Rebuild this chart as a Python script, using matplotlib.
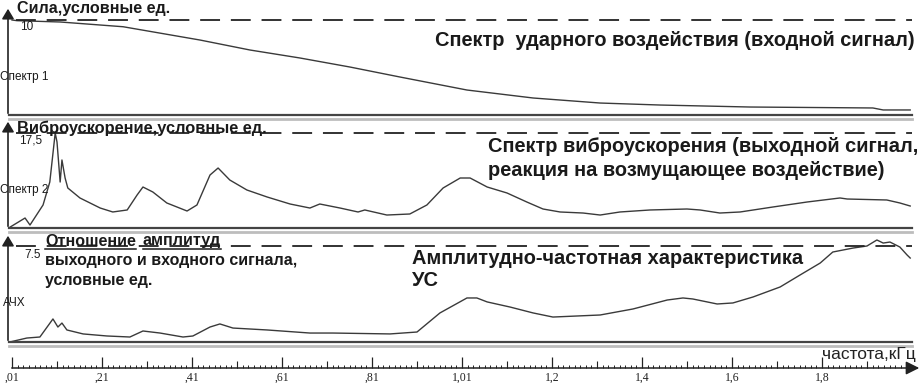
import matplotlib
matplotlib.use("Agg")
import matplotlib.pyplot as plt
from matplotlib.ticker import FixedLocator, NullFormatter

plt.rcParams['font.family'] = ['Liberation Sans', 'DejaVu Sans']

W, H = 924, 383

# ---------------- data (frequency in kHz) ----------------
f1 = [0.01, 0.021, 0.117, 0.257, 0.428, 0.539, 0.65, 0.761, 0.872, 1.021, 1.168,
      1.317, 1.45, 1.65, 1.923, 1.946, 2.006]
force = [10.0, 9.93, 9.79, 9.29, 7.89, 6.84, 6.0, 5.05, 4.0, 2.63, 1.79,
         1.26, 1.05, 0.84, 0.74, 0.53, 0.53]

f2 = [0.006, 0.039, 0.05, 0.079, 0.094, 0.106, 0.11, 0.117, 0.121, 0.128, 0.134,
      0.161, 0.206, 0.234, 0.266, 0.288, 0.301, 0.323, 0.354, 0.399, 0.421, 0.45,
      0.468, 0.494, 0.532, 0.577, 0.628, 0.672, 0.694, 0.739, 0.779, 0.794, 0.843,
      0.894, 0.932, 0.968, 1.006, 1.028, 1.066, 1.11, 1.154, 1.19, 1.228, 1.279,
      1.317, 1.361, 1.428, 1.51, 1.539, 1.583, 1.628, 1.701, 1.777, 1.85, 1.866,
      1.954, 1.983, 2.006]
accel = [0.18, 1.84, 0.55, 4.24, 8.47, 17.5, 15.84, 8.47, 12.53, 9.21, 7.37,
         5.53, 3.68, 2.95, 3.32, 6.08, 7.55, 6.63, 4.61, 3.13, 4.24, 9.76,
         11.05, 8.84, 7.0, 5.71, 4.42, 3.68, 4.42, 3.68, 2.95, 3.32, 2.39,
         2.58, 4.24, 7.37, 9.21, 9.21, 7.55, 6.45, 4.79, 3.5, 2.95, 2.76,
         2.39, 2.95, 3.32, 3.5, 3.32, 2.76, 2.95, 3.87, 4.79, 5.53, 5.34,
         5.16, 4.61, 4.05]

f3 = [0.005, 0.043, 0.072, 0.101, 0.112, 0.121, 0.132, 0.168, 0.221, 0.272, 0.301,
      0.339, 0.39, 0.412, 0.45, 0.472, 0.501, 0.577, 0.672, 0.723, 0.85, 0.91,
      0.961, 1.021, 1.043, 1.066, 1.117, 1.168, 1.212, 1.317, 1.39, 1.466, 1.501,
      1.523, 1.577, 1.612, 1.657, 1.717, 1.761, 1.806, 1.834, 1.879, 1.91, 1.932,
      1.946, 1.961, 1.983, 1.999, 2.006]
ratio = [0.0, 0.31, 0.39, 1.80, 1.17, 1.48, 0.94, 0.63, 0.47, 0.39, 0.86,
         0.70, 0.39, 0.47, 1.17, 1.41, 1.09, 0.94, 0.70, 0.70, 0.63, 0.78,
         2.27, 3.44, 3.44, 3.13, 2.73, 2.27, 1.95, 2.11, 2.58, 3.28, 3.44,
         3.36, 2.97, 3.05, 3.52, 4.30, 5.23, 6.17, 7.03, 7.34, 7.5, 7.97,
         7.73, 7.81, 7.42, 6.80, 6.56]

tick_pos = [0.01, 0.21, 0.41, 0.61, 0.81, 1.01, 1.21, 1.41, 1.61, 1.81]
tick_lab = [",01", ",21", ",41", ",61", ",81", "1,01", "1,2", "1,4", "1,6", "1,8"]

ref_levels = [10, 17.5, 7.5]
ref_labels = ["10", "17,5", "7.5"]

# ---------------- layout helpers ----------------
def fx(x):
    return x / W

def fy(y):
    return 1 - y / H

fig = plt.figure(figsize=(W / 100, H / 100), dpi=100)
fig.patch.set_facecolor("white")

X0, X1 = 9, 912
xmin = 0.01 + (X0 - 12) / 450
xmax = 0.01 + (X1 - 12) / 450

panels = [
    # top_px, dashed_px, base_px
    (10, 20, 115),
    (123, 133, 228),
    (237, 246, 342),
]
series = [(f1, force), (f2, accel), (f3, ratio)]
curve_col = "#3a3a3a"

for (top, dash, base), (sx, sy), lev in zip(panels, series, ref_levels):
    ax = fig.add_axes([fx(X0), fy(base), fx(X1) - fx(X0), (base - top) / H])
    ax.set_xlim(xmin, xmax)
    ymax = lev * (base - top) / (base - dash)
    ax.set_ylim(0, ymax)
    ax.plot(sx, sy, color=curve_col, lw=1.0)
    x_dash0 = 0.01 + (16 - 12) / 450
    ax.plot([x_dash0, xmax], [lev, lev], color="#222222", lw=1.3,
            dashes=(11, 6))
    for s in ["top", "right", "left"]:
        ax.spines[s].set_visible(False)
    ax.spines["bottom"].set_color("#444444")
    ax.spines["bottom"].set_linewidth(1.6)
    ax.set_xticks([])
    ax.set_yticks([])
    ax.patch.set_alpha(0)
    # y axis with arrow
    fig.add_artist(matplotlib.patches.FancyArrowPatch(
        (fx(8), fy(base + 1)), (fx(8), fy(top - 4)),
        transform=fig.transFigure, arrowstyle="-|>,head_length=3,head_width=1.8",
        color="#222222", lw=1.2, mutation_scale=2))
    # gray band under the panel
    fig.add_artist(matplotlib.lines.Line2D([fx(X0), fx(X1)], [fy(base + 3.5), fy(base + 3.5)],
                                           color="#bdbdbd", lw=2.0))

# ---------------- x axis ----------------
AXY = 368
axx = fig.add_axes([fx(X0), fy(AXY), fx(X1) - fx(X0), 0.0001])
axx.set_xlim(xmin, xmax)
axx.set_ylim(0, 1)
for s in ["top", "right", "left", "bottom"]:
    axx.spines[s].set_visible(False)
axx.set_yticks([])
axx.xaxis.set_major_locator(FixedLocator(tick_pos))
axx.xaxis.set_minor_locator(FixedLocator([0.01 + 0.0125 * i for i in range(161)]))
axx.set_xticklabels(tick_lab, family=["Liberation Serif"], fontsize=8.5)
axx.tick_params(axis="x", which="major", direction="in", length=8, width=0.9,
                pad=3, colors="#222222")
axx.tick_params(axis="x", which="minor", direction="in", length=2.5, width=0.7,
                colors="#222222")
axm = fig.add_axes([fx(X0), fy(AXY), fx(X1) - fx(X0), 0.0001])
axm.set_xlim(xmin, xmax)
for s in ["top", "right", "left", "bottom"]:
    axm.spines[s].set_visible(False)
axm.set_yticks([])
axm.xaxis.set_major_locator(FixedLocator([p + 0.1 for p in tick_pos]))
axm.xaxis.set_major_formatter(NullFormatter())
axm.tick_params(axis="x", which="major", direction="in", length=5, width=0.8,
                colors="#222222")
axm.patch.set_alpha(0)
fig.add_artist(matplotlib.patches.FancyArrowPatch(
    (fx(X0), fy(AXY)), (fx(922), fy(AXY)),
    transform=fig.transFigure, arrowstyle="-|>,head_length=4,head_width=2",
    color="#222222", lw=1.1, mutation_scale=2))
fig.text(fx(916), fy(354), "частота,кГц", ha="right", va="center", fontsize=12.5,
         color="#222222")

# ---------------- texts ----------------
def T(x, y, s, size, bold=False, ha="left"):
    return fig.text(fx(x), fy(y), s, ha=ha, va="center", fontsize=size,
                    fontweight="bold" if bold else "normal", color="#1a1a1a")

T(17, 9, "Сила,условные ед.", 11.6, bold=True)
T(17, 128, "Виброускорение,условные ед.", 11.8, bold=True)
w1 = T(45, 241, "Отношение", 11.6, bold=True)
T(45, 261, "выходного и входного сигнала,", 11.5, bold=True)
T(45, 280, "условные ед.", 11.5, bold=True)

renderer = fig.canvas.get_renderer()
bb1 = w1.get_window_extent(renderer)
x_a = bb1.x1 + 7
w2 = T(x_a, 241, "амплитуд", 11.6, bold=True)
bb2 = w2.get_window_extent(renderer)
for bb in (bb1, bb2):
    fig.add_artist(matplotlib.lines.Line2D([fx(bb.x0), fx(bb.x1)], [fy(249), fy(249)],
                                           color="#1a1a1a", lw=1.1))

T(20, 27, ref_labels[0], 8.5)
T(19, 141, ref_labels[1], 8.5)
T(24, 255, ref_labels[2], 8.5)

T(0, 77, "Спектр 1", 8.5)
T(0, 190, "Спектр 2", 8.5)
T(3, 303, "АЧХ", 8.5)

T(915, 40, "Спектр  ударного воздействия (входной сигнал)", 14.4, bold=True, ha="right")
T(488, 146, "Спектр виброускорения (выходной сигнал,", 14.4, bold=True)
T(488, 170, "реакция на возмущающее воздействие)", 14.4, bold=True)
T(412, 258, "Амплитудно-частотная характеристика", 14.4, bold=True)
T(412, 281, "УС", 14.4, bold=True)

fig.savefig("out.png", dpi=100, facecolor="white")
